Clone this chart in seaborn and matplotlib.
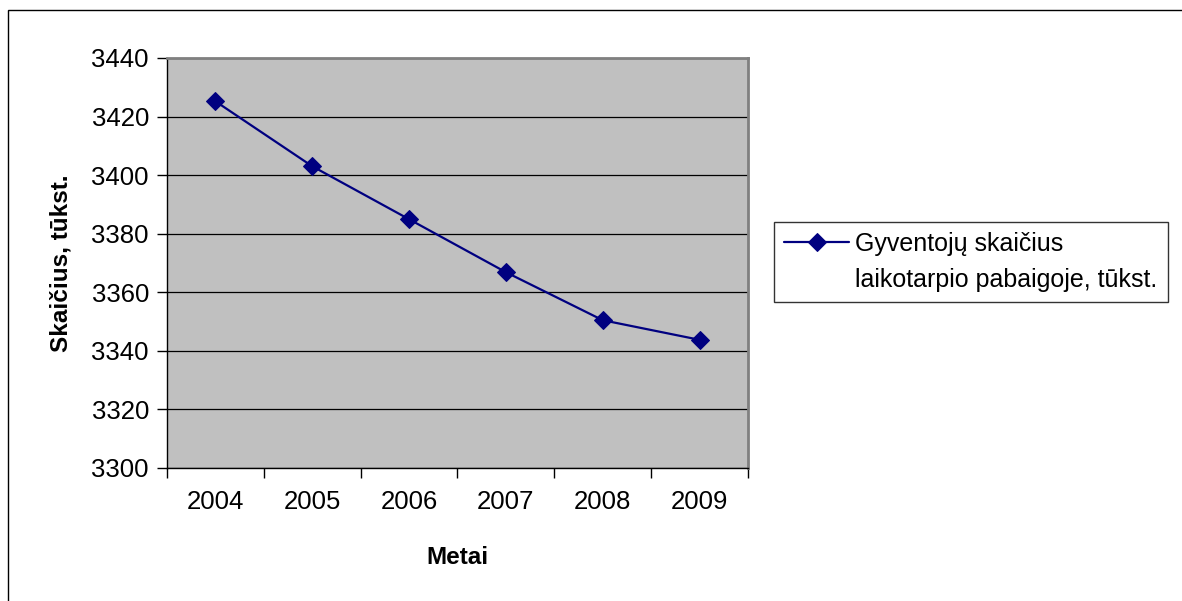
import numpy as np
import pandas as pd
import matplotlib
matplotlib.use("Agg")
import matplotlib.pyplot as plt
import seaborn as sns
from matplotlib.patches import Rectangle
from matplotlib.lines import Line2D

years = [2004, 2005, 2006, 2007, 2008, 2009]
population = [3425.2, 3403.0, 3384.9, 3366.8, 3350.4, 3343.7]
series_name = "Gyventojų skaičius\nlaikotarpio pabaigoje, tūkst."
y_ticks = [3300, 3320, 3340, 3360, 3380, 3400, 3420, 3440]

sns.set_theme(style="white")
plt.rcParams["font.family"] = ["Liberation Sans", "DejaVu Sans"]
plt.rcParams["text.color"] = "black"
plt.rcParams["axes.labelcolor"] = "black"
plt.rcParams["xtick.color"] = "black"
plt.rcParams["ytick.color"] = "black"

df = pd.DataFrame({"Metai": years, "val": population})

fig = plt.figure(figsize=(11.82, 6.01), dpi=100)
ax = fig.add_axes([0.1413, 0.2218, 0.4915, 0.6817])
ax.set_facecolor("#C0C0C0")

sns.lineplot(data=df, x="Metai", y="val", ax=ax, color="#000080",
             marker="D", markersize=9, markeredgecolor="#000080",
             linewidth=1.6, label=series_name)

ax.set_xlim(years[0] - 0.5, years[-1] + 0.5)
ax.set_ylim(y_ticks[0], y_ticks[-1])
ax.set_yticks(y_ticks)
ax.set_xticks(years)
ax.set_xticklabels([str(y) for y in years])
ax.set_xticks([y - 0.5 for y in years] + [years[-1] + 0.5], minor=True)
ax.tick_params(axis="x", which="major", length=0, pad=16, labelsize=18.5)
ax.tick_params(axis="x", which="minor", length=7, width=1, color="black", direction="out", bottom=True)
ax.tick_params(axis="y", length=7, width=1, color="black", direction="out", left=True,
               labelsize=18.5, pad=6)

ax.yaxis.grid(True, color="black", linewidth=0.9)
ax.xaxis.grid(False)
ax.set_axisbelow(True)

for side in ["left", "bottom"]:
    ax.spines[side].set_color("black")
    ax.spines[side].set_linewidth(1.0)
for side in ["top", "right"]:
    ax.spines[side].set_visible(True)
    ax.spines[side].set_color("#808080")
    ax.spines[side].set_linewidth(2.0)

ax.set_xlabel("Metai", fontsize=17.5, fontweight="bold", labelpad=23)
ax.set_ylabel("Skaičius, tūkst.", fontsize=17.5, fontweight="bold", labelpad=14)

# legend: marker beside the first text line, as in the original
handles, _ = ax.get_legend_handles_labels()
label_lines = series_name.split("\n")
blank = Line2D([], [], alpha=0)
leg = ax.legend([handles[0], blank], label_lines, loc="upper left",
                bbox_to_anchor=(1.045, 0.6), frameon=True, fancybox=False,
                fontsize=18, handlelength=2.6, borderpad=0.4, labelspacing=0.5,
                handletextpad=0.25, borderaxespad=0)
leg.get_frame().set_edgecolor("black")
leg.get_frame().set_linewidth(1.0)

# outer chart frame
fig.patches.append(Rectangle((8 / 1182, -0.1), 1.2, 1.1 - 10 / 601, transform=fig.transFigure,
                             fill=False, edgecolor="black", linewidth=1.0))

fig.savefig("out.png", dpi=100)
